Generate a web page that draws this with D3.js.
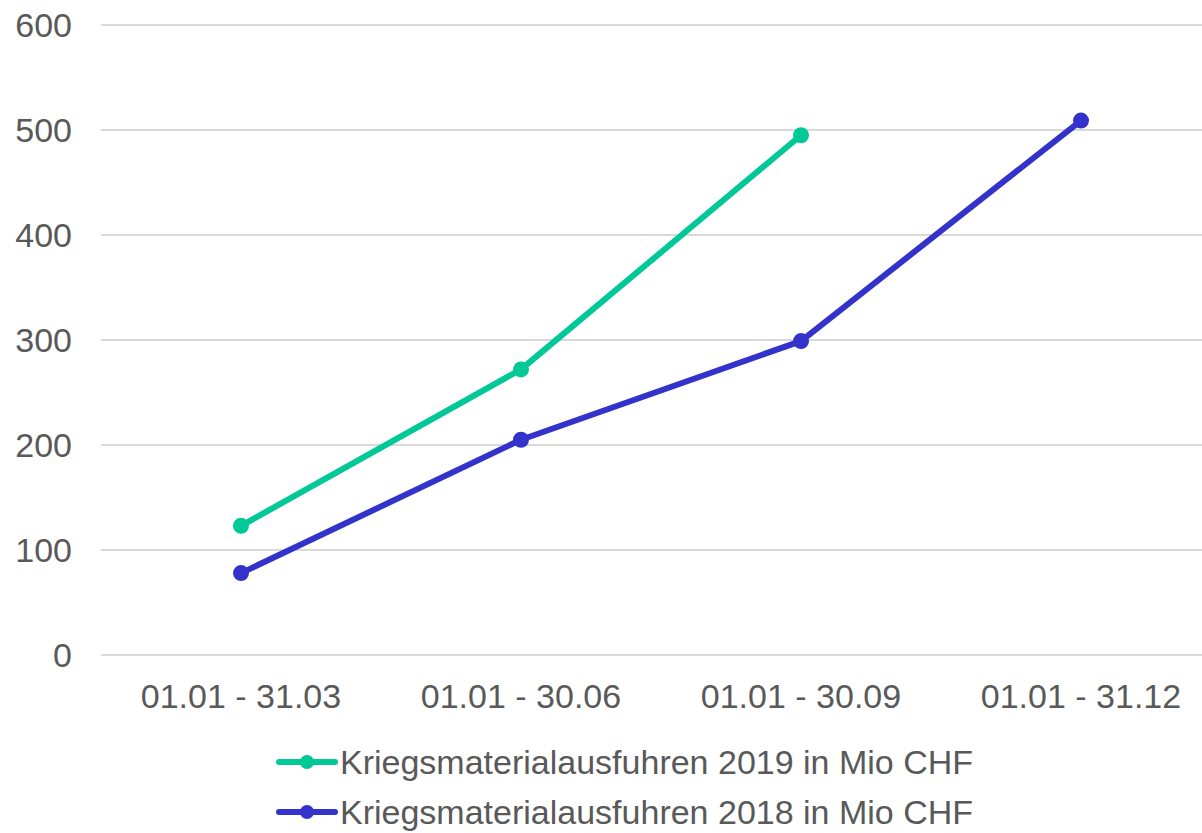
<!DOCTYPE html>
<html>
<head>
<meta charset="utf-8">
<script src="https://cdn.jsdelivr.net/npm/d3@7"></script>
<style>
  body { margin: 0; background: #fff; }
  text { font-family: "Liberation Sans", Arial, sans-serif; fill: #595959; }
</style>
</head>
<body>
<div id="chart-area"></div>
<script>
// data
var periods = ["01.01 - 31.03", "01.01 - 30.06", "01.01 - 30.09", "01.01 - 31.12"];
var values2019 = [123, 272, 495];
var values2018 = [78, 205, 299, 509];
var seriesNames = ["Kriegsmaterialausfuhren 2019 in Mio CHF", "Kriegsmaterialausfuhren 2018 in Mio CHF"];
var seriesColors = ["#00c896", "#3333cc"];
var yTicks = [0, 100, 200, 300, 400, 500, 600];

var width = 1202, height = 833;
var svg = d3.select("#chart-area").append("svg").attr("width", width).attr("height", height);

var x = d3.scaleBand()
  .domain(periods)
  .range([101, 1221]);
var y = d3.scaleLinear()
  .domain([0, 600])
  .range([655, 25]);

// gridlines
svg.selectAll("line.grid").data(yTicks).enter()
  .append("line")
  .attr("class", "grid")
  .attr("x1", 101).attr("x2", 1202)
  .attr("y1", (d) => {return y(d);})
  .attr("y2", (d) => {return y(d);})
  .attr("stroke", "#d9d9d9")
  .attr("stroke-width", 2);

// y labels
svg.selectAll("text.ylab").data(yTicks).enter()
  .append("text")
  .attr("class", "ylab")
  .attr("x", 72)
  .attr("y", (d) => {return y(d);})
  .attr("dy", "0.35em")
  .attr("text-anchor", "end")
  .attr("font-size", 34)
  .text((d) => {return d;});

// x labels
svg.selectAll("text.xlab").data(periods).enter()
  .append("text")
  .attr("class", "xlab")
  .attr("x", (d) => {return x(d) + x.bandwidth() / 2;})
  .attr("y", 708)
  .attr("text-anchor", "middle")
  .attr("font-size", 34)
  .text((d) => {return d;});

var series = [values2019, values2018];
var line = d3.line()
  .x((d, i) => {return x(periods[i]) + x.bandwidth() / 2;})
  .y((d) => {return y(d);});

series.forEach((vals, s) => {
  svg.append("path")
    .datum(vals)
    .attr("d", line)
    .attr("fill", "none")
    .attr("stroke", seriesColors[s])
    .attr("stroke-width", 6)
    .attr("stroke-linejoin", "round")
    .attr("stroke-linecap", "round");
  svg.selectAll("circle.s" + s).data(vals).enter()
    .append("circle")
    .attr("class", "s" + s)
    .attr("cx", (d, i) => {return x(periods[i]) + x.bandwidth() / 2;})
    .attr("cy", (d) => {return y(d);})
    .attr("r", 8)
    .attr("fill", seriesColors[s]);
});

// legend
var legend = svg.selectAll("g.legend").data(seriesNames).enter()
  .append("g")
  .attr("class", "legend")
  .attr("transform", (d, i) => {return "translate(0," + (762 + i * 50) + ")";});
legend.append("line")
  .attr("x1", 279).attr("x2", 335)
  .attr("y1", 0).attr("y2", 0)
  .attr("stroke", (d, i) => {return seriesColors[i];})
  .attr("stroke-width", 6)
  .attr("stroke-linecap", "round");
legend.append("circle")
  .attr("cx", 307).attr("cy", 0).attr("r", 7)
  .attr("fill", (d, i) => {return seriesColors[i];});
legend.append("text")
  .attr("x", 340).attr("y", 0)
  .attr("dy", "0.35em")
  .attr("font-size", 34)
  .text((d) => {return d;});
</script>
</body>
</html>
